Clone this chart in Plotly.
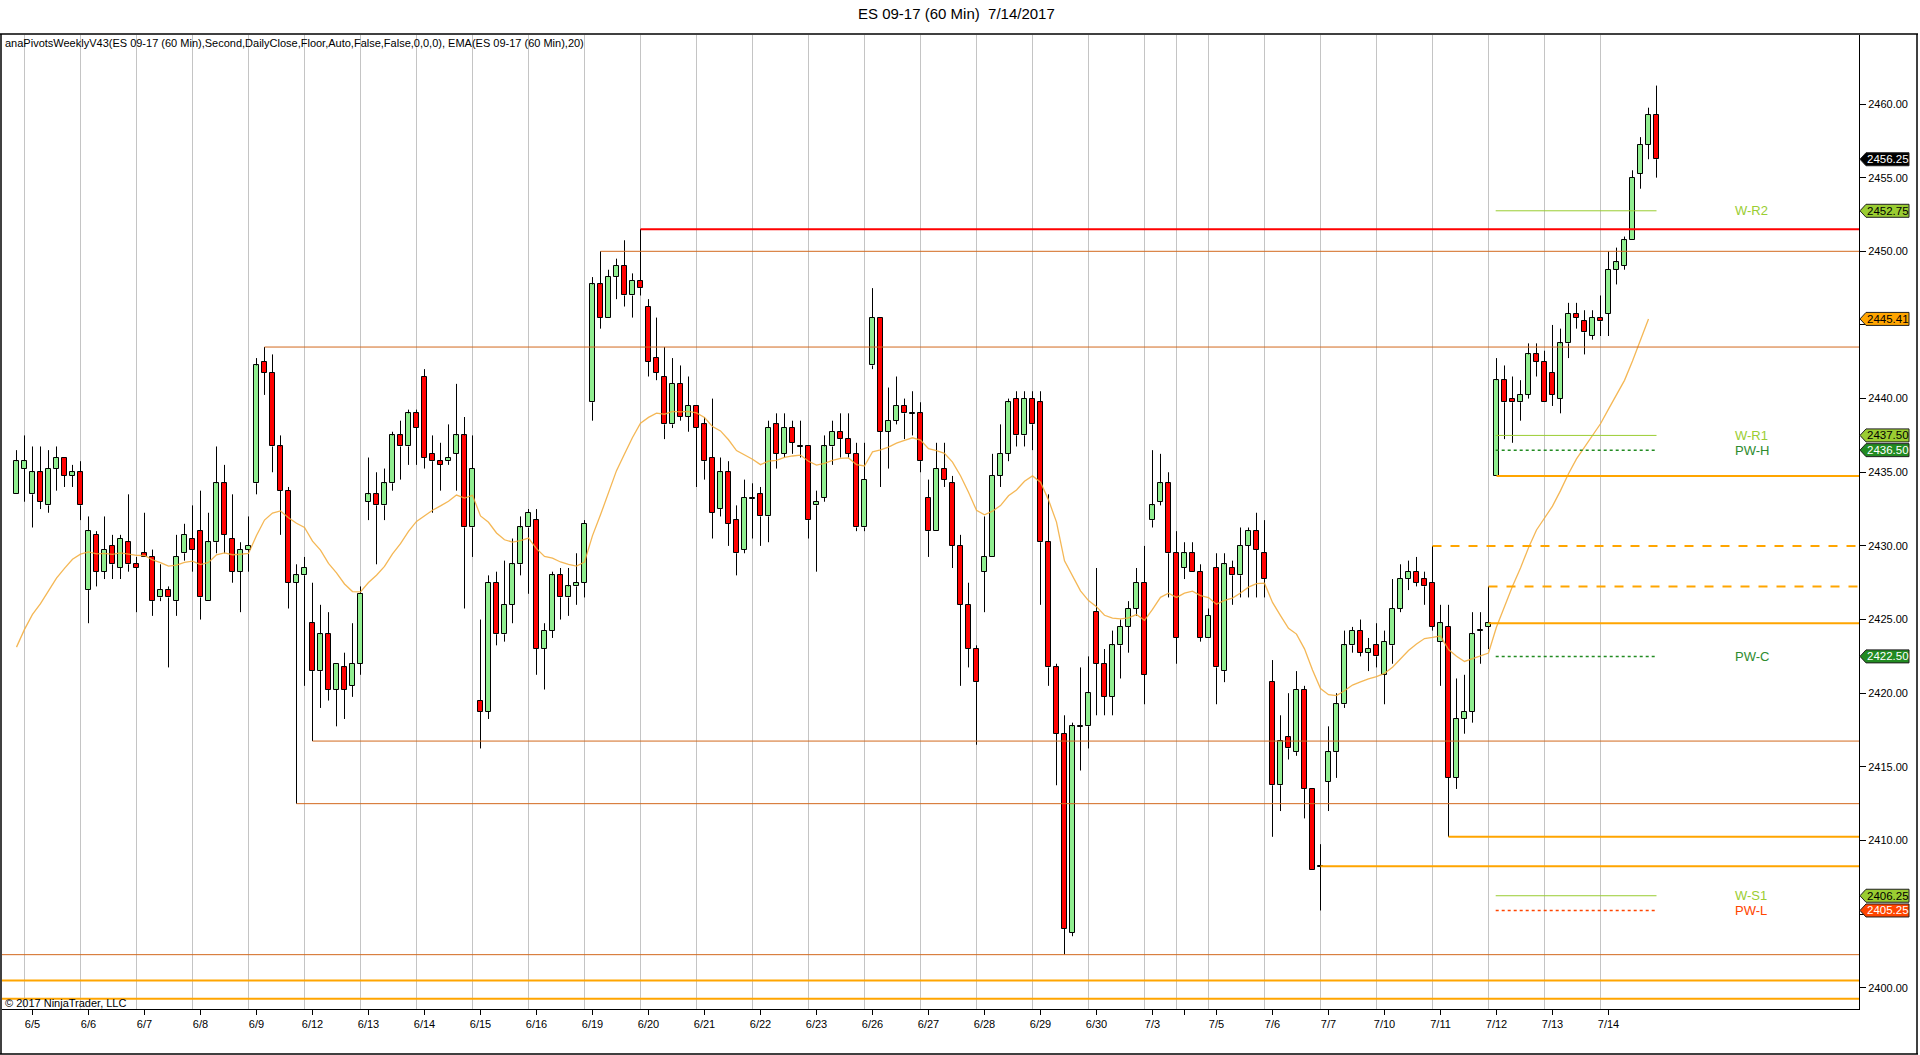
import plotly.graph_objects as go

# ------------------------------------------------------------------ data
day_labels = ['6/5', '6/6', '6/7', '6/8', '6/9', '6/12', '6/13', '6/14', '6/15', '6/16',
              '6/19', '6/20', '6/21', '6/22', '6/23', '6/26', '6/27', '6/28', '6/29', '6/30',
              '7/3', '7/4', '7/5', '7/6', '7/7', '7/10', '7/11', '7/12', '7/13', '7/14']
hidden_labels = ['7/4']
session_lengths = [7] * 20 + [4, 4] + [7] * 8
lead_bars = 2

opens = [2433.5, 2435.25, 2433.5, 2435, 2432.75, 2435.25, 2436, 2434.75, 2435, 2427,
         2430.75, 2428.25, 2430, 2428.5, 2430.25, 2428.75, 2429.5, 2429.25, 2426.5, 2427,
         2426.25, 2429.5, 2430.5, 2431, 2426.25, 2430.25, 2434.25, 2430.5, 2428.25, 2429.75,
         2434.25, 2442.5, 2441.75, 2436.75, 2433.75, 2427.5, 2428, 2424.75, 2421.5, 2424,
         2420.25, 2421.75, 2420.5, 2422, 2433, 2433.5, 2432.75, 2434.25, 2437.5, 2436.75,
         2439, 2441.5, 2436.25, 2435.75, 2435.75, 2436.25, 2437.5, 2431.25, 2419.5, 2418.75,
         2427.5, 2424, 2426, 2428.75, 2431.25, 2431.75, 2423, 2424.25, 2428, 2426.5,
         2427.25, 2427.5, 2439.75, 2447.75, 2445.5, 2448.25, 2449, 2447, 2448, 2446.25,
         2442.75, 2441.5, 2438.25, 2441, 2438.75, 2439.5, 2438.25, 2436, 2432.5, 2435,
         2431.75, 2429.75, 2433.25, 2433.5, 2432, 2438.25, 2436.25, 2438, 2436.75, 2436.75,
         2432.75, 2433.25, 2436.75, 2437.75, 2437.25, 2436.25, 2431.25, 2442.25, 2445.5, 2437.75,
         2438.5, 2439.5, 2439, 2439, 2433.25, 2431, 2435.25, 2434.25, 2430, 2426,
         2423, 2428.25, 2429.25, 2434.75, 2436.25, 2440, 2437.5, 2440, 2439.75, 2430.25,
         2421.75, 2417.25, 2403.75, 2417.75, 2417.75, 2425.5, 2422, 2419.75, 2423.25, 2424.5,
         2425.75, 2427.5, 2431.75, 2433, 2434.25, 2429.5, 2428.5, 2429.5, 2428.25, 2423.75,
         2428.5, 2421.5, 2428.5, 2428, 2430, 2431, 2429.5, 2420.75, 2413.75, 2417,
         2416, 2420.25, 2413.5, 2408.25, 2414, 2416, 2419.25, 2423.25, 2424.25, 2422.75,
         2423.25, 2421.25, 2423.25, 2425.75, 2427.75, 2428.25, 2427.75, 2427.5, 2423.5, 2424.5,
         2414.25, 2418.25, 2418.75, 2424.25, 2424.5, 2434.75, 2441.25, 2440, 2439.75, 2440.25,
         2443, 2442.5, 2441.75, 2440, 2443.75, 2445.75, 2445.25, 2444.25, 2445.5, 2445.75,
         2448.75, 2449, 2450.75, 2455.25, 2457.25, 2459.25]
highs = [2436.5, 2437.5, 2436.75, 2436.75, 2436.5, 2436.75, 2436, 2435.5, 2435.75, 2432,
         2431, 2432, 2430.75, 2430.75, 2433.5, 2429.25, 2432.25, 2429.75, 2428.75, 2427.25,
         2430.75, 2431.5, 2432.75, 2433.75, 2432.25, 2436.75, 2435.5, 2433.5, 2430.25, 2432,
         2442.75, 2443.5, 2443, 2437.5, 2434, 2428.75, 2429.25, 2427.5, 2426, 2425.5,
         2422, 2422.75, 2424.75, 2427.25, 2436, 2435, 2435.25, 2437.75, 2438.5, 2439.25,
         2439.25, 2442, 2437.5, 2437, 2438.25, 2441, 2438.75, 2437.5, 2425, 2428,
         2428.25, 2429, 2430.5, 2432, 2432.5, 2432.5, 2424.75, 2428.25, 2428.5, 2428.5,
         2429.5, 2431.75, 2448.25, 2450, 2448.75, 2449.5, 2450.75, 2448.5, 2451.5, 2446.75,
         2445.5, 2443.5, 2442.75, 2442.25, 2441.5, 2439.5, 2438.75, 2440, 2436, 2435.75,
         2432.75, 2434.5, 2434.25, 2434, 2438.5, 2439, 2439, 2438.5, 2438.5, 2436.75,
         2433.75, 2437.5, 2438.5, 2439, 2439, 2437, 2437, 2447.5, 2445.5, 2440.75,
         2441.5, 2440, 2440.5, 2439.75, 2434.5, 2437, 2437, 2434.75, 2430.75, 2427.5,
         2423.25, 2432, 2436.25, 2438.25, 2440, 2440.5, 2440.5, 2440.5, 2440.5, 2433.5,
         2422, 2418.5, 2418, 2421.75, 2422.5, 2428.5, 2423, 2424.25, 2425, 2426.25,
         2428.5, 2430, 2436.5, 2436.25, 2435, 2431, 2430.25, 2430.25, 2428.75, 2425.75,
         2429.5, 2429.5, 2429, 2431.25, 2431.25, 2432.25, 2431.75, 2422.25, 2418.5, 2420,
         2421.5, 2420.5, 2413.5, 2409.75, 2417.75, 2420, 2424.25, 2424.5, 2425, 2423.75,
         2424.75, 2424.25, 2427.75, 2428.75, 2429, 2429.25, 2428.25, 2430, 2426, 2426,
         2421, 2421.25, 2425.5, 2425.5, 2427.25, 2442.75, 2442.25, 2441.5, 2441.25, 2443.75,
         2443.75, 2443.25, 2445, 2444.75, 2446.5, 2446.5, 2446, 2446, 2447, 2450,
         2450.25, 2451, 2455.5, 2457.75, 2459.75, 2461.25]
lows = [2433.5, 2433, 2431.25, 2432.5, 2432.25, 2433.75, 2434, 2434, 2431.75, 2424.75,
        2427.25, 2427.75, 2427.75, 2427.75, 2428.25, 2425.5, 2429.25, 2425.25, 2426.25, 2421.75,
        2425.25, 2429, 2428.25, 2425, 2426.25, 2429.5, 2429.5, 2427.5, 2425.5, 2428.25,
        2433.5, 2440.25, 2435, 2430.75, 2425.75, 2412.5, 2420.5, 2416.75, 2419, 2419.5,
        2417.75, 2418.25, 2419.75, 2421.25, 2431.75, 2428.75, 2431.75, 2433.75, 2434.5, 2435.5,
        2435.5, 2435.25, 2432.25, 2433.75, 2435.5, 2433.75, 2425.75, 2429.25, 2416.25, 2418.25,
        2423.25, 2423.5, 2424.75, 2428, 2426.75, 2421.25, 2420.25, 2423.75, 2425, 2425.25,
        2426, 2426.5, 2438.5, 2444.75, 2445.5, 2446.75, 2446.25, 2445.5, 2447, 2441.5,
        2441.25, 2437.25, 2438, 2438.5, 2437.75, 2434, 2434.5, 2430.5, 2432, 2430,
        2428, 2429.5, 2430.5, 2430, 2430.25, 2435.25, 2436, 2436.25, 2436, 2430.5,
        2428.25, 2433, 2435.5, 2436, 2436, 2431, 2431, 2442, 2434, 2435.25,
        2438.25, 2437.25, 2437.5, 2435, 2429.25, 2431, 2434, 2428.5, 2420.5, 2421.75,
        2416.5, 2425.5, 2429.25, 2434, 2435.75, 2436.75, 2436.75, 2436.5, 2426, 2420.5,
        2413.75, 2402.25, 2403.5, 2414.75, 2416.25, 2418.5, 2418.5, 2418.5, 2421, 2422.75,
        2425.25, 2419.25, 2431.25, 2432.75, 2426.5, 2422, 2427.75, 2428.25, 2423.5, 2423.75,
        2419.25, 2420.75, 2426, 2426.5, 2426.5, 2426.5, 2426.5, 2410.25, 2412, 2415.5,
        2415.75, 2411.5, 2408, 2405.25, 2412, 2414.25, 2419, 2422.75, 2422.5, 2421.5,
        2421.75, 2419.25, 2422, 2425.5, 2427, 2427.25, 2426, 2424.25, 2420.5, 2410.25,
        2413.5, 2417.25, 2418, 2422, 2423, 2434.75, 2437.25, 2437, 2438.5, 2440,
        2441.5, 2439.75, 2439.5, 2439, 2442.75, 2444.75, 2443, 2444, 2444.25, 2444.25,
        2447.75, 2448.75, 2450.75, 2454.25, 2456.25, 2455]
closes = [2435.75, 2435.75, 2435, 2433, 2435.25, 2436, 2434.75, 2435, 2432.75, 2431,
          2428.25, 2429.75, 2428.75, 2430.5, 2428.75, 2428.5, 2429.25, 2426.25, 2427, 2426.5,
          2429.25, 2430.75, 2429.75, 2426.5, 2430.25, 2434.25, 2430.75, 2428.25, 2429.75, 2430,
          2442.25, 2441.75, 2436.75, 2433.75, 2427.5, 2428, 2428.5, 2421.5, 2424, 2420.25,
          2422, 2420.25, 2422, 2426.75, 2433.5, 2432.75, 2434.25, 2437.5, 2436.75, 2439,
          2438, 2436, 2435.75, 2435.5, 2436, 2437.5, 2431.25, 2435.25, 2418.75, 2427.5,
          2424, 2426, 2428.75, 2431.25, 2432.25, 2423, 2424.25, 2428, 2426.5, 2427.25,
          2427.5, 2431.5, 2447.75, 2445.5, 2448.25, 2449, 2447, 2448, 2447.5, 2442.5,
          2441.75, 2438.25, 2441, 2438.75, 2439.5, 2438, 2435.75, 2432.25, 2435, 2431.5,
          2429.5, 2433.25, 2433.25, 2432, 2438, 2436.25, 2438, 2437, 2436.75, 2431.75,
          2433, 2436.75, 2437.75, 2437.25, 2436.25, 2431.25, 2434.5, 2445.5, 2437.75, 2438.5,
          2439.5, 2439, 2439, 2435.75, 2431, 2435.25, 2434.5, 2430, 2426, 2423,
          2420.75, 2429.25, 2434.75, 2436.25, 2439.75, 2437.5, 2440, 2438.25, 2430.25, 2421.75,
          2417.25, 2404, 2417.75, 2417.75, 2420, 2422, 2419.75, 2423.25, 2424.5, 2425.75,
          2427.5, 2421.25, 2432.75, 2434.25, 2429.5, 2423.75, 2429.5, 2428.25, 2423.75, 2425.25,
          2421.75, 2428.75, 2428, 2430, 2431, 2429.75, 2427.75, 2413.75, 2416.75, 2416.25,
          2420.25, 2413.5, 2408, 2408.25, 2416, 2419.25, 2423.25, 2424.25, 2422.75, 2423,
          2422.5, 2423.5, 2425.75, 2427.75, 2428.25, 2427.5, 2427.25, 2424.5, 2424.75, 2414.25,
          2418.25, 2418.75, 2424, 2424.25, 2424.75, 2441.25, 2439.75, 2439.75, 2440.25, 2443,
          2442.5, 2439.75, 2440.25, 2443.75, 2445.75, 2445.5, 2444.5, 2445.5, 2445.25, 2448.75,
          2449.25, 2450.75, 2455, 2457.25, 2459.25, 2456.25]

ema_period = 20
ema_prior = 2421.8          # EMA value carried in from bars left of the view

level_prices = [2451.5, 2450.0, 2443.5, 2434.75, 2430.0, 2427.25, 2424.75,
                2416.75, 2412.5, 2410.25, 2408.25, 2402.25, 2400.5, 2399.25]
level_start_bar = [78, 73, 31, 185, 177, 184, 184, 37, 35, 179, 163, None, None, None]
level_kind = ['red', 'thin', 'thin', 'thick', 'dash', 'dash', 'thick',
              'thin', 'thin', 'thick', 'thick', 'thin', 'thick', 'thick']

pivot_names = ['W-R2', 'W-R1', 'PW-H', 'PW-C', 'W-S1', 'PW-L']
pivot_values = [2452.75, 2437.50, 2436.50, 2422.50, 2406.25, 2405.25]
pivot_kind = ['r', 'r', 'pw', 'pw', 'r', 'pwl']
pivot_start_bar = 185

axis_tag_values = [2456.25, 2452.75, 2445.41, 2437.50, 2436.50, 2422.50, 2406.25, 2405.25]
axis_tag_kind = ['last', 'r', 'ema', 'r', 'pw', 'pw', 'r', 'pwl']

y_ticks = [2400, 2405, 2410, 2415, 2420, 2425, 2430, 2435, 2440, 2445, 2450, 2455, 2460]

title_text = 'ES 09-17 (60 Min)  7/14/2017'
indicator_text = ('anaPivotsWeeklyV43(ES 09-17 (60 Min),Second,DailyClose,Floor,Auto,False,False,0,0,0), '
                  'EMA(ES 09-17 (60 Min),20)')
copyright_text = '\u00a9 2017 NinjaTrader, LLC'

# ------------------------------------------------------------------ geometry / styles
W, H = 1920, 1055
PLOT_L, PLOT_R, PLOT_T, PLOT_B = 2, 1859, 35, 1009
BAR0_PX, BAR_PX = 16.5, 8.0
PX_PER_PT, REF_PRICE, REF_PX = 14.73, 2460.0, 104.0

XMIN = (PLOT_L - BAR0_PX) / BAR_PX
XMAX = (PLOT_R - BAR0_PX) / BAR_PX
YMAX = REF_PRICE + (REF_PX - PLOT_T) / PX_PER_PT
YMIN = REF_PRICE - (PLOT_B - REF_PX) / PX_PER_PT


def pxx(px):
    return (px - PLOT_L) / (PLOT_R - PLOT_L)


def pxy(py):
    return (PLOT_B - py) / (PLOT_B - PLOT_T)


FONT = 'Arial, Liberation Sans, sans-serif'
UP_FILL, DN_FILL = '#90EE90', '#FF0000'
LEVEL_STYLE = {'red': ('#FF0000', 2, 'solid'), 'thin': ('#D2691E', 1, 'solid'),
               'thick': ('#FFA500', 2, 'solid'), 'dash': ('#FFA500', 2, 'dash')}
PIVOT_STYLE = {'r': ('#9ACD32', 1, 'solid'), 'pw': ('#228B22', 1.5, 'dot'),
               'pwl': ('#FF4500', 1.5, 'dot')}
TAG_STYLE = {'last': ('#000000', 'white'), 'r': ('#9ACD32', 'black'),
             'ema': ('#FFA500', 'black'), 'pw': ('#228B22', 'white'), 'pwl': ('#FF4500', 'white')}
TAG_HALF_PX = 6.5

# ------------------------------------------------------------------ derived
n = len(closes)
idx = list(range(n))
grid_bars = [lead_bars - 1]
for L in session_lengths[:-1]:
    grid_bars.append(grid_bars[-1] + L)
tick_bars = [g + 1 for g in grid_bars]
tick_text = ['' if d in hidden_labels else d for d in day_labels]

# axis labels hidden behind a price tag (as in the original) are left blank
tag_half_pts = TAG_HALF_PX / PX_PER_PT
y_tick_text = []
for t in y_ticks:
    covered = any(abs(t - v) < 2 * tag_half_pts for v in axis_tag_values)
    y_tick_text.append('' if covered else f'{t:.2f}')

alpha = 2.0 / (ema_period + 1)
ema = []
prev = ema_prior
for c in closes:
    prev = prev + alpha * (c - prev)
    ema.append(prev)

fig = go.Figure()

# wicks (split above / below body so they never cross the body)
wx, wy = [], []
for i in idx:
    top = max(opens[i], closes[i])
    bot = min(opens[i], closes[i])
    if highs[i] > top:
        wx += [i, i, None]
        wy += [top, highs[i], None]
    if lows[i] < bot:
        wx += [i, i, None]
        wy += [bot, lows[i], None]
fig.add_trace(go.Scatter(x=wx, y=wy, mode='lines', line=dict(color='black', width=1),
                         hoverinfo='skip', showlegend=False))

# bodies
MIN_BODY = 0.07
for up in (True, False):
    xs, bases, hs = [], [], []
    for i in idx:
        is_up = closes[i] >= opens[i]
        if is_up != up:
            continue
        lo = min(opens[i], closes[i])
        h = abs(closes[i] - opens[i])
        if h < MIN_BODY:
            lo -= MIN_BODY / 2
            h = MIN_BODY
        xs.append(i)
        bases.append(lo)
        hs.append(h)
    fig.add_trace(go.Bar(x=xs, y=hs, base=bases, width=0.74,
                         marker=dict(color=UP_FILL if up else DN_FILL,
                                     line=dict(color='black', width=1)),
                         hoverinfo='skip', showlegend=False))

# EMA (not yet computed on the still-open last bar)
fig.add_trace(go.Scatter(x=idx[:-1], y=ema[:-1], mode='lines',
                         line=dict(color='rgba(242,170,55,0.85)', width=1.3),
                         hoverinfo='skip', showlegend=False))

shapes = []
# vertical session grid lines
for g in grid_bars:
    shapes.append(dict(type='line', xref='x', yref='paper', x0=g, x1=g, y0=0, y1=1,
                       line=dict(color='#C4C4C4', width=1), layer='below'))

# horizontal levels
for p, sb, k in zip(level_prices, level_start_bar, level_kind):
    col, wd, ds = LEVEL_STYLE[k]
    shapes.append(dict(type='line', xref='x', yref='y', x0=XMIN if sb is None else sb, x1=XMAX,
                       y0=p, y1=p, line=dict(color=col, width=wd, dash=ds), layer='above'))

# pivot segments and labels
annotations = []
for name, v, k in zip(pivot_names, pivot_values, pivot_kind):
    col, wd, ds = PIVOT_STYLE[k]
    shapes.append(dict(type='line', xref='x', yref='y', x0=pivot_start_bar - 0.1, x1=n - 1,
                       y0=v, y1=v, line=dict(color=col, width=wd, dash=ds), layer='above'))
    annotations.append(dict(x=214.6, y=v, xref='x', yref='y', text=name, showarrow=False,
                            xanchor='left', yanchor='middle',
                            font=dict(family=FONT, size=13, color=col if k != 'pw' else '#2E8B2E')))

# price tags on the axis
xt, xb, xe = pxx(1860), pxx(1866), pxx(1909)
for v, k in zip(axis_tag_values, axis_tag_kind):
    fill, tc = TAG_STYLE[k]
    path = (f'M {xt},{v} L {xb},{v + tag_half_pts} L {xe},{v + tag_half_pts} '
            f'L {xe},{v - tag_half_pts} L {xb},{v - tag_half_pts} Z')
    shapes.append(dict(type='path', xref='paper', yref='y', path=path, fillcolor=fill,
                       line=dict(color='#202020', width=1), layer='above'))
    annotations.append(dict(x=pxx(1887.5), y=v, xref='paper', yref='y', text=f'{v:.2f}',
                            showarrow=False, xanchor='center', yanchor='middle',
                            font=dict(family=FONT, size=11.5, color=tc)))

# chart frame
for (x0, y0, x1, y1) in [(0, 34, 1918, 34), (1, 34, 1, 1054), (0, 1054, 1918, 1054),
                         (1917, 34, 1917, 1054)]:
    shapes.append(dict(type='line', xref='paper', yref='paper', x0=pxx(x0), x1=pxx(x1),
                       y0=pxy(y0), y1=pxy(y1), line=dict(color='black', width=1.5),
                       layer='above'))

annotations += [
    dict(x=pxx(956), y=pxy(14), xref='paper', yref='paper', text=title_text, showarrow=False,
         xanchor='center', yanchor='middle', font=dict(family=FONT, size=15, color='black')),
    dict(x=pxx(3), y=pxy(43), xref='paper', yref='paper', text=indicator_text, showarrow=False,
         xanchor='left', yanchor='middle', font=dict(family=FONT, size=11, color='black')),
    dict(x=pxx(3), y=pxy(1003), xref='paper', yref='paper', text=copyright_text,
         showarrow=False, xanchor='left', yanchor='middle',
         font=dict(family=FONT, size=11, color='black')),
]

fig.update_layout(
    width=W, height=H,
    margin=dict(l=PLOT_L, r=W - PLOT_R, t=PLOT_T, b=H - PLOT_B, pad=0),
    paper_bgcolor='white', plot_bgcolor='white',
    barmode='overlay', bargap=0, showlegend=False, hovermode=False,
    shapes=shapes, annotations=annotations,
    font=dict(family=FONT, size=11, color='black'),
    xaxis=dict(range=[XMIN, XMAX], tickmode='array', tickvals=tick_bars, ticktext=tick_text,
               ticks='outside', ticklen=5, tickcolor='black', showgrid=False, zeroline=False,
               showline=True, linecolor='black', linewidth=1,
               tickfont=dict(family=FONT, size=11, color='black'), fixedrange=True),
    yaxis=dict(side='right', range=[YMIN, YMAX], tickmode='array',
               tickvals=y_ticks, ticktext=y_tick_text,
               ticks='outside', ticklen=6, tickcolor='black', showgrid=False, zeroline=False,
               showline=True, linecolor='black', linewidth=1,
               tickfont=dict(family=FONT, size=11, color='black'), fixedrange=True),
)

fig.write_html("out.html", config={'displayModeBar': False},
               post_script="document.body.style.margin='0';document.body.style.overflow='hidden';")
